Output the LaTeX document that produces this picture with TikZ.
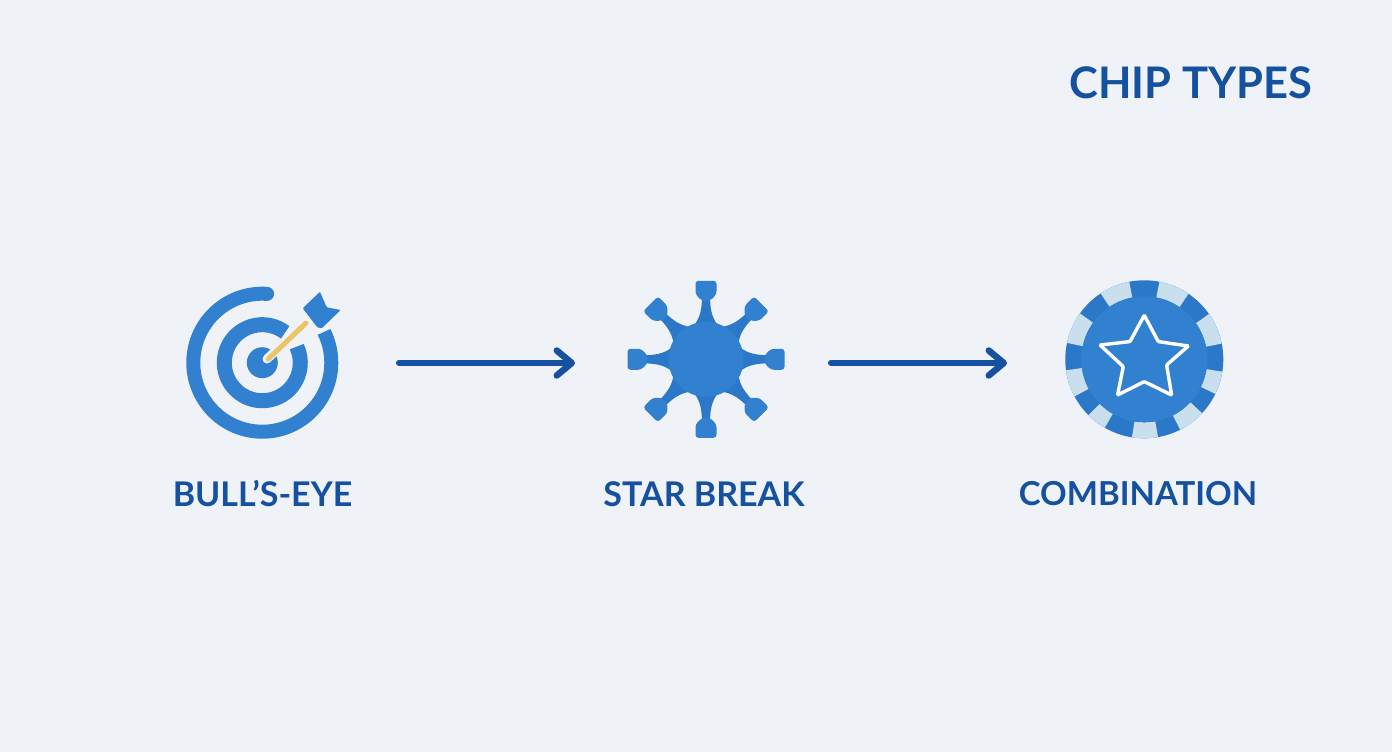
\documentclass[tikz,border=0pt]{standalone}
\usepackage{fontspec}
\setmainfont{Lato}
\usetikzlibrary{arrows.meta}
\definecolor{pagebg}{HTML}{EFF2F7}
\definecolor{chipblue}{HTML}{3280D0}
\definecolor{chipdark}{HTML}{2B78C8}
\definecolor{chiplight}{HTML}{C9DFED}
\definecolor{inkblue}{HTML}{15519F}
\definecolor{shaftgold}{HTML}{EBC468}
\tikzset{
	chiplabel/.style={text=inkblue, font=\fontsize{34}{34}\selectfont\bfseries, anchor=center},
	charttitle/.style={text=inkblue, font=\fontsize{43.5}{43.5}\selectfont\bfseries, anchor=center},
	flowarrow/.style={draw=inkblue, line width=6pt, line cap=round, -{Straight Barb[round, length=15pt, width=25pt, line width=6.5pt]}},
	ringline/.style={draw=chipblue, line width=15pt},
}
\begin{document}
\begin{tikzpicture}[x=1pt, y=-1pt]
	\useasboundingbox[fill=pagebg] (0,0) rectangle (1392,752);

	\coordinate (bull) at (262.3,362.7);
	\coordinate (star) at (706,359.3);
	\coordinate (combo) at (1144.3,359.3);

	% bull's-eye
	\draw[ringline, line width=14pt] (bull) ++(-86:69) arc[start angle=-86, end angle=-386.5, radius=69];
	\fill[chipblue] (bull) ++(-86:69) circle[radius=7];
	\draw[ringline] (bull) ++(-53:38) arc[start angle=-53, end angle=-385, radius=38];
	\fill[chipblue] (bull) circle[radius=15.5];
	\draw[pagebg, line width=9pt, line cap=round] (267,359) -- (307,321);
	\draw[shaftgold, line width=5pt, line cap=round] (268.3,359) -- (306,323);
	\fill[chipblue, rounded corners=1pt] (302.7,308.3) -- (320,291.7) -- (326.7,307.3) -- (340.7,310) -- (321.7,328.3) -- (317.3,327.3) -- cycle;

	% star break
	\foreach \a in {0,45,...,315} {
		\begin{scope}[shift={(star)}, rotate=\a]
			\fill[chipdark] (-14,-31) .. controls (-7,-40) and (-4.5,-46) .. (-4,-61) -- (4,-61) .. controls (4.5,-46) and (7,-40) .. (14,-31) -- cycle;
			\fill[chipblue, rounded corners=3pt] (-10.5,-78.5) -- (10.5,-78.5) -- (10.5,-65) -- (4,-58.5) -- (-4,-58.5) -- (-10.5,-65) -- cycle;
		\end{scope}
	}
	\fill[chipblue] (star) circle[radius=37.5];

	% combination
	\fill[chipdark] (combo) circle[radius=79];
	\foreach \s/\e in {56/79,101/123.5,144.5/168,188/208,225/240,261/280,297/317,334/351,11.5/35} {
		\fill[chiplight] (combo) ++(-\s:79) arc[start angle=-\s, end angle=-\e, radius=79] -- ++(-\e+180:16) arc[start angle=-\e, end angle=-\s, radius=63] -- cycle;
	}
	\fill[chipblue] (combo) circle[radius=63];
	\draw[white, line width=3.4pt, rounded corners=1pt, shift={(combo)}] (0,-44) -- (14,-17.7) -- (44,-13.3) -- (22.3,5.7) -- (27.3,35.7) -- (0,22.3) -- (-26.7,35.7) -- (-21,7.3) -- (-44.3,-14.3) -- (-14.3,-17.7) -- cycle;

	% arrows
	\coordinate (arrowA) at (399,363);
	\coordinate (arrowB) at (575,363);
	\coordinate (arrowC) at (831,363);
	\coordinate (arrowD) at (1007,363);
	\draw[flowarrow] (arrowA) -- (arrowB);
	\draw[flowarrow] (arrowC) -- (arrowD);

	\node[chiplabel] (bullLabel) at (262.5,494) {BULL’S-EYE};
	\node[chiplabel] (starLabel) at (704,494) {STAR BREAK};
	\node[chiplabel, font=\fontsize{33}{33}\selectfont\bfseries] (comboLabel) at (1138,494) {COMBINATION};
	\node[charttitle] (title) at (1191,83) {CHIP TYPES};
\end{tikzpicture}
\end{document}
